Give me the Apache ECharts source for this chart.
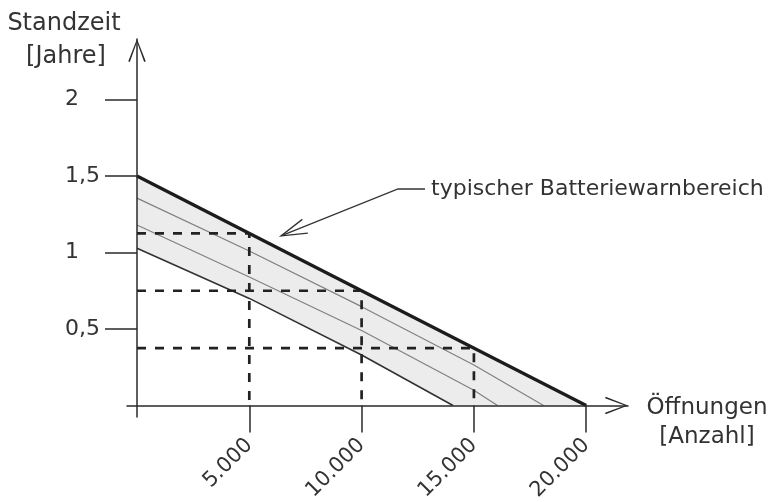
<!DOCTYPE html>
<html><head><meta charset="utf-8">
<script src="https://cdn.jsdelivr.net/npm/echarts@6/dist/echarts.min.js"></script>
<style>html,body{margin:0;padding:0;background:#fff}#c{width:783px;height:502px}</style>
</head><body><div id="c"></div>
<script>
// ---- data ----
const xTicks = [5000, 10000, 15000, 20000];
const xTickLabels = ['5.000', '10.000', '15.000', '20.000'];
const yTicks = [0.5, 1, 1.5, 2];
const yTickLabels = ['0,5', '1', '1,5', '2'];
const upperLine = [[0, 1.5], [20000, 0]];
const lineA = [[0, 1.355], [5000, 1.01], [10000, 0.646], [15000, 0.265], [18100, 0]];
const lineB = [[0, 1.18], [5000, 0.84], [10000, 0.49], [15000, 0.1], [16050, 0]];
const lowerLine = [[0, 1.027], [5000, 0.70], [10000, 0.33], [14070, 0]];
const guideX = [5000, 10000, 15000];
const guideY = [1.125, 0.75, 0.375];
const yName = ['Standzeit', '[Jahre]'];
const xName = ['Öffnungen', '[Anzahl]'];
const annotationText = 'typischer Batteriewarnbereich';
const annotationTip = [6411, 1.108];
const annotationElbow = [11621, 1.415];
const annotationEnd = [12823, 1.415];

// ---- chart ----
const FONT = 'DejaVu Sans';
const TXT = '#333333';
const AX = '#2a2a2a';
const chevron = 'path://M0,0 L9,23 L7.4,23.7 L0,3.2 L-7.4,23.7 L-9,23 Z';
const chart = echarts.init(document.getElementById('c'), null, {renderer: 'canvas'});

const guideSeries = guideX.map((gx, i) => ({
  type: 'line', data: [[0, guideY[i]], [gx, guideY[i]], [gx, 0]],
  showSymbol: false, silent: true, z: 5,
  lineStyle: {color: '#222', width: 2.7, type: [9, 9]}
}));

const option = {
  animation: false,
  backgroundColor: '#ffffff',
  grid: {left: 127, right: 155, top: 39, bottom: 85, outerBoundsMode: 'none', containLabel: false},
  xAxis: {
    type: 'value', min: -445, max: 21860,
    axisLine: {show: true, onZero: true, lineStyle: {color: AX, width: 1.5},
      symbol: ['none', chevron], symbolSize: [18, 23], symbolOffset: [0, -11.5]},
    axisTick: {show: true, customValues: xTicks, length: 27, lineStyle: {color: AX, width: 1.5}},
    axisLabel: {show: true, customValues: xTicks, rotate: 45, margin: 25,
      fontSize: 21, fontFamily: FONT, color: TXT,
      formatter: v => xTickLabels[xTicks.indexOf(v)]},
    splitLine: {show: false}, z: 10
  },
  yAxis: {
    type: 'value', min: -0.075, max: 2.395,
    axisLine: {show: true, onZero: true, lineStyle: {color: AX, width: 1.5},
      symbol: ['none', chevron], symbolSize: [18, 23], symbolOffset: [0, -11.5]},
    axisTick: {show: true, customValues: yTicks, length: 32, lineStyle: {color: AX, width: 1.5}},
    axisLabel: {show: true, customValues: yTicks, margin: 62, align: 'left',
      fontSize: 22, fontFamily: FONT, color: TXT,
      formatter: v => yTickLabels[yTicks.indexOf(v)]},
    splitLine: {show: false}, z: 10
  },
  series: [
    {type: 'custom', silent: true, z: 1, clip: false, data: [[0, 0]],
     renderItem: (params, api) => {
       const pts = upperLine.concat(lowerLine.slice().reverse()).map(p => api.coord(p));
       return {type: 'polygon', shape: {points: pts}, style: {fill: '#ececec'}};
     }},
    {type: 'line', data: lineA, showSymbol: false, silent: true, z: 3,
     lineStyle: {color: '#808080', width: 1.2}},
    {type: 'line', data: lineB, showSymbol: false, silent: true, z: 3,
     lineStyle: {color: '#808080', width: 1.2}},
    {type: 'line', data: lowerLine, showSymbol: false, silent: true, z: 4,
     lineStyle: {color: '#333', width: 1.6}},
    ...guideSeries,
    {type: 'line', data: upperLine, showSymbol: false, silent: true, z: 6,
     lineStyle: {color: '#1c1c1c', width: 3.2}}
  ]
};
chart.setOption(option);

// annotation arrow and text, positioned through the chart's scales
const tip = chart.convertToPixel({gridIndex: 0}, annotationTip);
const elbow = chart.convertToPixel({gridIndex: 0}, annotationElbow);
const end = chart.convertToPixel({gridIndex: 0}, annotationEnd);
const ang = Math.atan2(elbow[1] - tip[1], elbow[0] - tip[0]);
const armLen = 27, half = 16 * Math.PI / 180;
const arm1 = [tip[0] + armLen * Math.cos(ang - half), tip[1] + armLen * Math.sin(ang - half)];
const arm2 = [tip[0] + armLen * Math.cos(ang + half), tip[1] + armLen * Math.sin(ang + half)];

chart.setOption({
  graphic: [
    {type: 'polyline', shape: {points: [tip, elbow, end]}, style: {stroke: '#333', lineWidth: 1.3, fill: null}, z: 20, silent: true},
    {type: 'polyline', shape: {points: [arm1, tip, arm2]}, style: {stroke: '#333', lineWidth: 1.3, fill: null}, z: 20, silent: true},
    {type: 'text', x: end[0] + 6, y: end[1], style: {text: annotationText, font: '22px "DejaVu Sans"', fill: TXT, textAlign: 'left', textVerticalAlign: 'middle'}, z: 20},
    {type: 'text', x: 64, y: 24, style: {text: yName[0], font: '24px "DejaVu Sans"', fill: TXT, textAlign: 'center', textVerticalAlign: 'middle'}, z: 20},
    {type: 'text', x: 66, y: 57, style: {text: yName[1], font: '24px "DejaVu Sans"', fill: TXT, textAlign: 'center', textVerticalAlign: 'middle'}, z: 20},
    {type: 'text', x: 707, y: 408, style: {text: xName[0], font: '23px "DejaVu Sans"', fill: TXT, textAlign: 'center', textVerticalAlign: 'middle'}, z: 20},
    {type: 'text', x: 707, y: 437, style: {text: xName[1], font: '23px "DejaVu Sans"', fill: TXT, textAlign: 'center', textVerticalAlign: 'middle'}, z: 20}
  ]
});
</script>
</body></html>
